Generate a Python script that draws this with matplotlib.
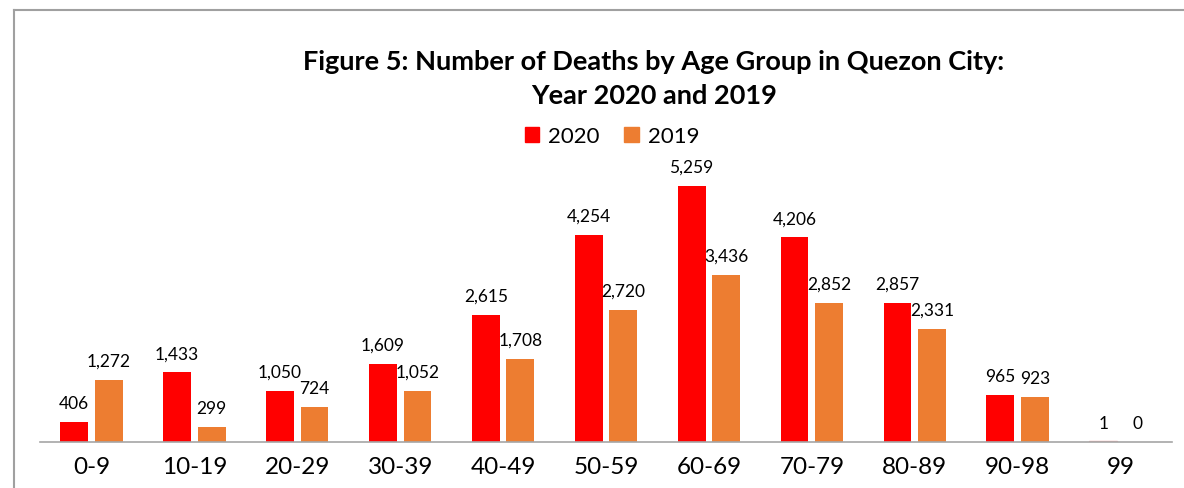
import matplotlib.pyplot as plt
import numpy as np
from matplotlib.lines import Line2D
from matplotlib.patches import Patch

plt.rcParams['font.family'] = ['Lato', 'DejaVu Sans']

# Deaths by age group, Quezon City
age_groups = ["0-9", "10-19", "20-29", "30-39", "40-49", "50-59",
              "60-69", "70-79", "80-89", "90-98", "99"]
deaths_2020 = [406, 1433, 1050, 1609, 2615, 4254, 5259, 4206, 2857, 965, 1]
deaths_2019 = [1272, 299, 724, 1052, 1708, 2720, 3436, 2852, 2331, 923, 0]

red = "#FF0000"
orange = "#ED7D31"

W, H = 1184, 489
fig = plt.figure(figsize=(W / 100, H / 100), dpi=100)
ax = fig.add_axes([40 / W, (H - 443) / H, 1132 / W, 292 / H])

x = np.arange(len(age_groups))
bw = 0.27
off = 0.168
b1 = ax.bar(x - off, deaths_2020, bw, color=red, label="2020")
b2 = ax.bar(x + off, deaths_2019, bw, color=orange, label="2019")

# the "1" bar in 99 shows up as a faint line
b1[-1].set_color("#F4A6A6")
b1[-1].set_height(18)

for bars, vals in ((b1, deaths_2020), (b2, deaths_2019)):
    for rect, v in zip(bars, vals):
        ax.annotate(f"{v:,}", (rect.get_x() + rect.get_width() / 2, v),
                    xytext=(0, 8), textcoords="offset points",
                    ha="center", va="bottom", fontsize=12.5, color="#000000")

ax.set_xlim(-0.5, len(age_groups) - 0.5)
ax.set_ylim(0, 6000)
ax.set_xticks(x)
ax.set_xticklabels(age_groups, fontsize=17.5)
ax.tick_params(axis="x", length=0, pad=10)
ax.set_yticks([])
for s in ("top", "right", "left"):
    ax.spines[s].set_visible(False)
ax.spines["bottom"].set_color("#A6A6A6")
ax.spines["bottom"].set_linewidth(1.2)

fig.text(654 / W, 1 - 62 / H, "Figure 5: Number of Deaths by Age Group in Quezon City:",
         ha="center", va="center", fontsize=19.5, fontweight="bold")
fig.text(654 / W, 1 - 96 / H, "Year 2020 and 2019",
         ha="center", va="center", fontsize=19.5, fontweight="bold")

handles = [Patch(color=red, label="2020"), Patch(color=orange, label="2019")]
fig.legend(handles=handles, loc="center", bbox_to_anchor=(612 / W, 1 - 137 / H),
           ncol=2, frameon=False, fontsize=16, handlelength=0.65, handleheight=0.65,
           handletextpad=0.4, columnspacing=1.1)

# outer frame (left and top edges visible)
fig.add_artist(Line2D([14 / W, 14 / W], [0, 1 - 11 / H], transform=fig.transFigure,
                      color="#A0A0A0", lw=1.5))
fig.add_artist(Line2D([14 / W, 1], [1 - 11 / H, 1 - 11 / H], transform=fig.transFigure,
                      color="#A0A0A0", lw=1.5))

fig.savefig("out.png", dpi=100, facecolor="white")
